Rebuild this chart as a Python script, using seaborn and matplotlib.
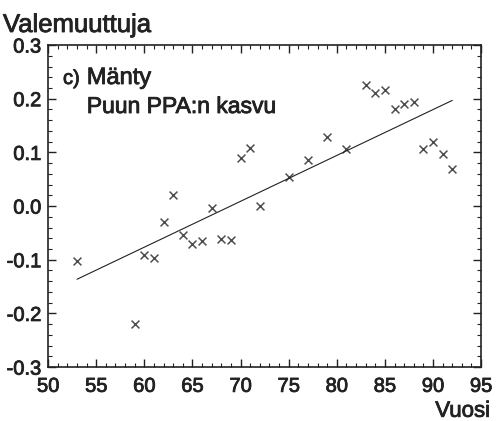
import matplotlib
matplotlib.use('Agg')
import matplotlib.pyplot as plt
import matplotlib.patheffects as pe
import numpy as np
import pandas as pd
import seaborn as sns
from matplotlib.ticker import MultipleLocator

# Data
vuosi = [53, 59, 60, 61, 62, 63, 64, 65, 66, 67, 68, 69, 70, 71, 72,
         75, 77, 79, 81, 83, 84, 85, 86, 87, 88, 89, 90, 91, 92]
valemuuttuja = [-0.102, -0.220, -0.091, -0.097, -0.030, 0.020, -0.054, -0.071, -0.065, -0.004,
                -0.061, -0.063, 0.089, 0.108, 0.000, 0.054, 0.086, 0.128, 0.107, 0.225,
                0.211, 0.216, 0.181, 0.190, 0.193, 0.106, 0.120, 0.097, 0.070]

df = pd.DataFrame({'Vuosi': vuosi, 'Valemuuttuja': valemuuttuja})

sns.set_style('ticks')
plt.rcParams['font.family'] = ['Liberation Sans', 'DejaVu Sans']

ink = '#222222'
heavy = [pe.withStroke(linewidth=0.6, foreground=ink)]

fig = plt.figure(figsize=(4.96, 4.21), dpi=100)
ax = fig.add_axes([0.097, 0.128, 0.873, 0.765])

sns.regplot(data=df, x='Vuosi', y='Valemuuttuja', ci=None, ax=ax, marker='x',
            scatter_kws={'s': 32, 'color': ink, 'linewidths': 1.1},
            line_kws={'color': ink, 'lw': 0.8})

ax.set_xlim(50, 95)
ax.set_ylim(-0.3, 0.3)
ax.xaxis.set_major_locator(MultipleLocator(5))
ax.xaxis.set_minor_locator(MultipleLocator(1))
ax.yaxis.set_major_locator(MultipleLocator(0.1))
ax.yaxis.set_minor_locator(MultipleLocator(0.02))
ax.yaxis.set_major_formatter(plt.FuncFormatter(lambda v, p: f'{v:.1f}'.replace('-0.0', '0.0')))
ax.tick_params(which='both', direction='in', top=True, right=True, color=ink)
ax.tick_params(which='major', length=6, width=1, labelsize=14.5, labelcolor=ink)
ax.tick_params(axis='x', which='major', pad=7)
ax.tick_params(axis='y', which='major', pad=5)
ax.tick_params(which='minor', length=3, width=0.8)
for lab in ax.get_xticklabels() + ax.get_yticklabels():
    lab.set_path_effects(heavy)
for s in ax.spines.values():
    s.set_color(ink)
    s.set_linewidth(1.2)

ax.set_xlabel('')
ax.set_ylabel('')
fig.text(0.006, 0.924, 'Valemuuttuja', fontsize=18.5, va='baseline', ha='left',
         color=ink, path_effects=heavy)
fig.text(0.988, 0.01, 'Vuosi', fontsize=16, va='baseline', ha='right',
         color=ink, path_effects=heavy)

fig.text(0.127, 0.8005, 'c)', fontsize=14.5, va='baseline', color=ink, path_effects=heavy)
fig.text(0.175, 0.8005, 'Mänty', fontsize=17, va='baseline', color=ink, path_effects=heavy)
fig.text(0.175, 0.7316, 'Puun PPA:n kasvu', fontsize=16.5, va='baseline', color=ink,
         path_effects=heavy)

fig.savefig('out.png', dpi=100)
